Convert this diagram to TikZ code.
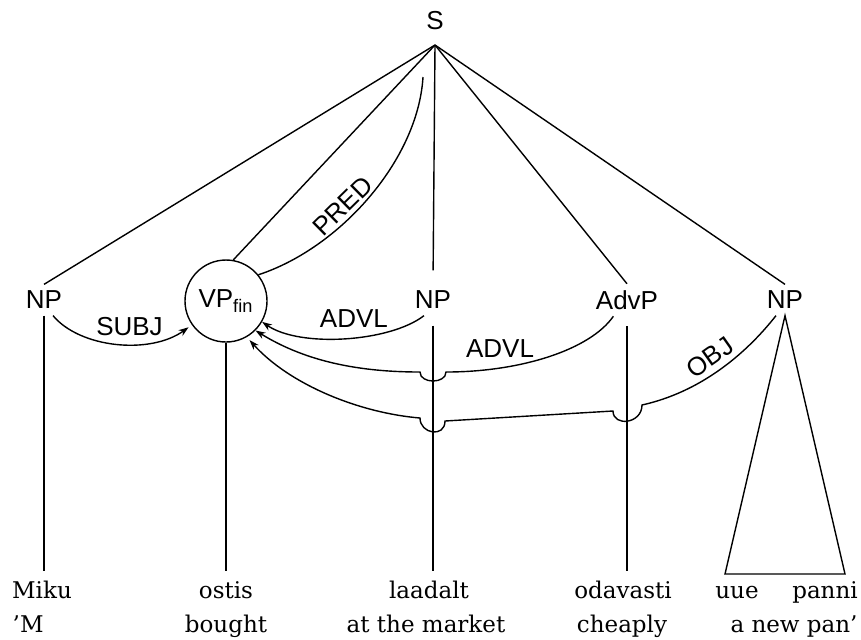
\documentclass[tikz,border=0pt]{standalone}
\usepackage{fontspec}
\setmainfont{DejaVu Serif}
\setsansfont{Liberation Sans}
\usetikzlibrary{arrows.meta}

\tikzset{
  cat/.style={font=\sffamily\fontsize{13}{15}\selectfont, inner sep=3pt},
  word/.style={font=\fontsize{11.5}{14}\selectfont, inner sep=4pt,
    text height=9pt, text depth=2.5pt, anchor=base},
  rlabel/.style={font=\sffamily\fontsize{13}{15}\selectfont, inner sep=3pt},
}

\begin{document}
\begin{tikzpicture}[x=0.5pt,y=-0.5pt,line width=0.7pt,>={Stealth[length=5pt,width=3.5pt]}]
		\useasboundingbox (0,0) rectangle (861,639);
		% categories
		\node[cat] (s) at (435,21) {S};
		\coordinate (sfoot) at (435,45);
		\node[cat] (np1) at (44,300) {NP};
		\node[cat,draw,circle,minimum size=41pt,inner sep=0pt] (vp) at (226,301) {VP\textsubscript{fin}};
		\node[cat] (np2) at (433,300) {NP};
		\node[cat] (advp) at (627,300) {AdvP};
		\node[cat] (np3) at (785,300) {NP};
		% words and glosses
		\node[word] (w1) at (42,598) {Miku};
		\node[word] (w2) at (226,598) {ostis};
		\node[word] (w3) at (429,598) {laadalt};
		\node[word] (w4) at (623,598) {odavasti};
		\node[word] (w5a) at (737,598) {uue};
		\node[word] (w5b) at (825,598) {panni};
		\node[word,anchor=base west] (g1) at (4,632) {'M};
		\node[word] (g2) at (226,632) {bought};
		\node[word] (g3) at (426,632) {at the market};
		\node[word] (g4) at (622,632) {cheaply};
		\node[word] (g5) at (794,632) {a new pan'};
		% tree
		\draw (sfoot) -- (np1.north);
		\draw (sfoot) -- (vp.80);
		\draw[shorten >=7pt] (sfoot) -- (np2.north);
		\draw (sfoot) -- (advp.north);
		\draw (sfoot) -- (np3.north);
		\draw (np1.south) -- (np1.south |- w1.north);
		\draw (vp.south) -- (vp.south |- w2.north);
		\draw[shorten <=5pt] (np2.south) -- (np2.south |- w3.north);
		\draw[shorten <=5pt] (advp.south) -- (advp.south |- w4.north);
		\coordinate (tril) at (725,574);
		\coordinate (trir) at (845,574);
		\draw (np3.south) -- (tril) -- (trir) -- cycle;
		% relations
		\coordinate (predtop) at (423,77);
		\draw (vp.39) .. controls (340,248) and (418,160) .. (predtop) node[rlabel,pos=0.41,above=-1pt,sloped] {PRED};
		\draw[->,shorten >=2pt] (np1.-60) .. controls (80,348) and (150,355) .. (vp.215) node[rlabel,pos=0.58,above=1pt] {SUBJ};
		\draw[->] (np2.-120) .. controls (390,342) and (300,348) .. (vp.-30) node[rlabel,pos=0.45,above=2pt] {ADVL};
		\draw[->] (advp.-130) .. controls (590,350) and (520,372) .. (446,372) node[rlabel,pos=0.75,above=2pt] {ADVL}
			.. controls (446,384) and (420,384) .. (420,372)
			.. controls (350,372) and (300,358) .. (vp.-45);
		\draw[->,shorten >=2pt] (np3.-120) .. controls (745,355) and (700,392) .. (642,405) node[rlabel,pos=0.5,above,sloped] {OBJ}
			.. controls (642,424) and (613,427) .. (613,411) -- (445,421)
			.. controls (445,438) and (420,434) .. (420,418)
			.. controls (360,413) and (290,385) .. (vp.-60);
		\end{tikzpicture}
\end{document}
